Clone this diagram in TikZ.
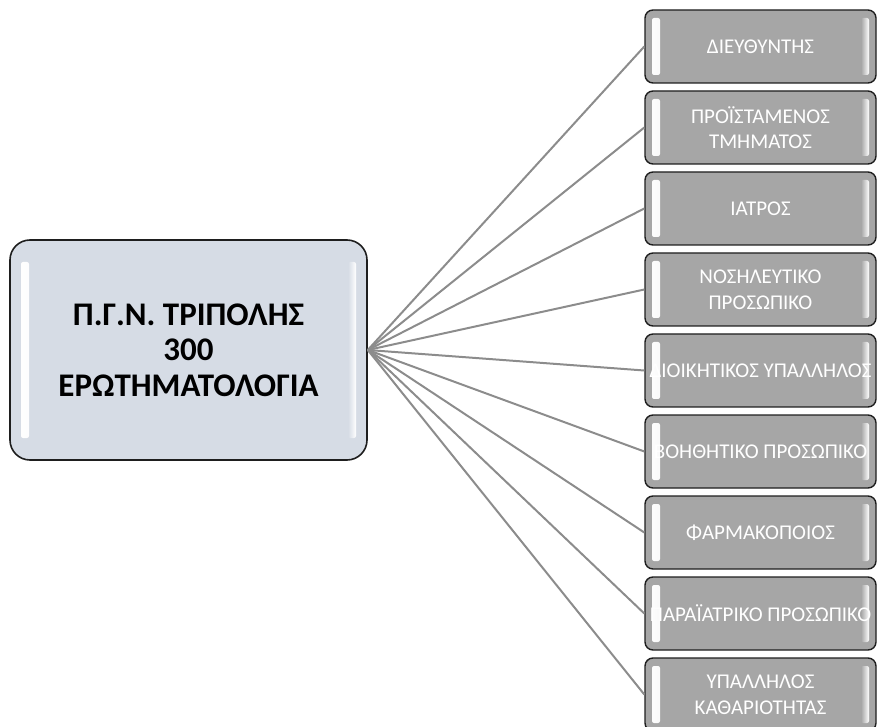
\documentclass[tikz,border=0pt]{standalone}
\usepackage{fontspec}
\setmainfont{Carlito}
\definecolor{rootfill}{HTML}{D6DCE5}
\definecolor{leaffill}{HTML}{A6A6A6}
\definecolor{linkgray}{HTML}{8C8C8C}
\definecolor{rim}{HTML}{1E1E1E}
\begin{document}
\begin{tikzpicture}[x=1pt,y=1pt]
\tikzstyle{root node}=[rectangle,draw=rim,line width=1.6pt,fill=rootfill,rounded corners=20pt,
	minimum width=357pt,minimum height=220pt,align=center,
	font=\fontsize{33}{35.5}\selectfont\bfseries,gloss={rootfill}{11pt}{22pt}]
\tikzstyle{leaf node}=[rectangle,draw=rim,line width=1.4pt,fill=leaffill,rounded corners=8pt,
	minimum width=231pt,minimum height=73pt,align=center,text=white,
	font=\fontsize{21}{25.6}\selectfont,gloss={leaffill}{7pt}{8pt}]
\tikzset{
	gloss/.style n args={3}{path picture={
		\shade[left color=white,right color=#1,rounded corners=2pt]
			([xshift=#2,yshift=#3]path picture bounding box.south west) rectangle
			([xshift=#2+8pt,yshift=-#3]path picture bounding box.north west);
		\shade[right color=white,left color=#1,rounded corners=2pt]
			([xshift=-#2,yshift=#3]path picture bounding box.south east) rectangle
			([xshift=-#2-8pt,yshift=-#3]path picture bounding box.north east);
	}},
	link/.style={draw=linkgray,line width=2pt}
}
\useasboundingbox (0,0) rectangle (877,726);
\clip (0,0) rectangle (877,726);
\node[root node] (pgn) at (188.5,376) {Π.Γ.Ν. ΤΡΙΠΟΛΗΣ\\300\\ΕΡΩΤΗΜΑΤΟΛΟΓΙΑ}
	[grow'=right,level distance=572pt,sibling distance=81pt,
	 every child node/.style={yshift=-20.5pt},
	 edge from parent/.style={link},
	 edge from parent path={(\tikzparentnode.east) -- (\tikzchildnode.west)}]
	child{node[leaf node] (director) {ΔΙΕΥΘΥΝΤΗΣ}}
	child{node[leaf node] (head) {ΠΡΟΪΣΤΑΜΕΝΟΣ\\ΤΜΗΜΑΤΟΣ}}
	child{node[leaf node] (doctor) {ΙΑΤΡΟΣ}}
	child{node[leaf node] (nursing) {ΝΟΣΗΛΕΥΤΙΚΟ\\ΠΡΟΣΩΠΙΚΟ}}
	child{node[leaf node] (admin) {\makebox[0pt]{ΔΙΟΙΚΗΤΙΚΟΣ ΥΠΑΛΛΗΛΟΣ}}}
	child{node[leaf node] (auxiliary) {\makebox[0pt]{ΒΟΗΘΗΤΙΚΟ ΠΡΟΣΩΠΙΚΟ}}}
	child{node[leaf node] (pharmacist) {ΦΑΡΜΑΚΟΠΟΙΟΣ}}
	child{node[leaf node] (paramedical) {\makebox[0pt]{ΠΑΡΑΪΑΤΡΙΚΟ ΠΡΟΣΩΠΙΚΟ}}}
	child{node[leaf node] (cleaning) {ΥΠΑΛΛΗΛΟΣ\\ΚΑΘΑΡΙΟΤΗΤΑΣ}}
;
\end{tikzpicture}
\end{document}
